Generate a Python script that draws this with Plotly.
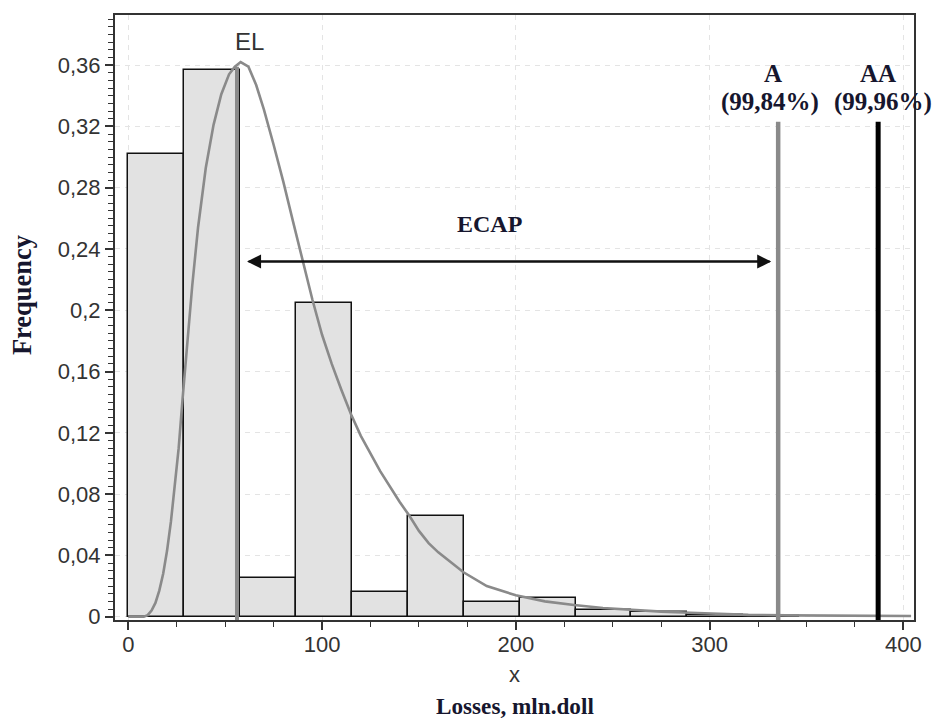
import plotly.graph_objects as go

# ---- data ----
bin_edges = [0, 28.85, 57.7, 86.55, 115.4, 144.25, 173.1, 201.95, 230.8, 259.65, 288.5, 317.35, 346.2]
bin_freq = [0.302, 0.357, 0.025, 0.205, 0.016, 0.066, 0.0093, 0.012, 0.0043, 0.0032, 0.0011, 0.0005]

curve_x = [0, 8, 10, 12, 14, 16, 18, 20, 22, 24, 26, 28, 30, 33, 36, 40, 44, 48, 52, 55, 58,
           62, 66, 70, 75, 80, 85, 90, 95, 100, 105, 110, 115, 120, 130, 140, 145, 150, 155,
           160, 173, 185, 200, 215, 230, 245, 260, 275, 290, 305, 320, 340, 360, 380, 404]
curve_y = [0, 0, 0.001, 0.004, 0.009, 0.017, 0.028, 0.043, 0.062, 0.085, 0.110, 0.142, 0.172,
           0.216, 0.254, 0.293, 0.321, 0.341, 0.354, 0.359, 0.362, 0.359, 0.347, 0.331, 0.308,
           0.284, 0.258, 0.232, 0.207, 0.184, 0.165, 0.148, 0.132, 0.118, 0.095, 0.075, 0.066,
           0.056, 0.048, 0.042, 0.029, 0.020, 0.014, 0.010, 0.0076, 0.0057, 0.0043, 0.0033,
           0.0026, 0.0018, 0.0012, 0.0009, 0.0007, 0.0006, 0.0005]

el_x = 56.1          # expected loss
el_top = 0.359
a_x = 335.4          # A (99,84%)
aa_x = 387.0         # AA (99,96%)
quantile_top = 0.323
ecap_y = 0.2318
ecap_left = 61.3
ecap_right = 331.8

y_tickvals = [0, 0.04, 0.08, 0.12, 0.16, 0.2, 0.24, 0.28, 0.32, 0.36]
y_ticktext = ["0", "0,04", "0,08", "0,12", "0,16", "0,2", "0,24", "0,28", "0,32", "0,36"]
x_tickvals = [0, 100, 200, 300, 400]
x_ticktext = ["0", "100", "200", "300", "400"]

SERIF = "Liberation Serif, Times New Roman, serif"
SANS = "Liberation Sans, Arial, sans-serif"
DARK = "#16162e"

bin_widths = [bin_edges[i + 1] - bin_edges[i] for i in range(len(bin_freq))]

fig = go.Figure()
fig.add_trace(go.Bar(
    x=bin_edges[:-1], y=bin_freq, width=bin_widths, offset=0,
    marker=dict(color="#e2e2e2", line=dict(color="#111111", width=1.5)),
    hoverinfo="skip", showlegend=False,
))
fig.add_trace(go.Scatter(
    x=curve_x, y=curve_y, mode="lines",
    line=dict(color="#8a8a8a", width=2.6),
    hoverinfo="skip", showlegend=False,
))

y_bottom = -0.00215
fig.add_shape(type="line", xref="x", yref="y", x0=el_x, x1=el_x, y0=y_bottom, y1=el_top,
              line=dict(color="#8a8a8a", width=4))
fig.add_shape(type="line", xref="x", yref="y", x0=a_x, x1=a_x, y0=y_bottom, y1=quantile_top,
              line=dict(color="#8a8a8a", width=4.5))
fig.add_shape(type="line", xref="x", yref="y", x0=aa_x, x1=aa_x, y0=y_bottom, y1=quantile_top,
              line=dict(color="#000000", width=5))

# double-headed ECAP arrow: two full-length arrows pointing opposite ways
for tip, tail in ((ecap_left, ecap_right), (ecap_right, ecap_left)):
    fig.add_annotation(x=tip, y=ecap_y, ax=tail, ay=ecap_y, xref="x", yref="y",
                       axref="x", ayref="y", text="", showarrow=True, arrowhead=2,
                       arrowsize=1.4, arrowwidth=2, arrowcolor="#111111", standoff=0)

fig.add_annotation(x=186.4, y=0.2565, xref="x", yref="y", text="<b>ECAP</b>", showarrow=False,
                   xanchor="center", yanchor="middle",
                   font=dict(family=SERIF, size=24, color=DARK))
fig.add_annotation(x=62.8, y=0.3755, xref="x", yref="y", text="EL", showarrow=False,
                   xanchor="center", yanchor="middle",
                   font=dict(family=SANS, size=24, color="#333333"))
fig.add_annotation(x=332.9, y=0.3545, xref="x", yref="y", text="<b>A</b>", showarrow=False,
                   xanchor="center", yanchor="middle",
                   font=dict(family=SERIF, size=25, color=DARK))
fig.add_annotation(x=331.2, y=0.3358, xref="x", yref="y", text="<b>(99,84%)</b>", showarrow=False,
                   xanchor="center", yanchor="middle",
                   font=dict(family=SERIF, size=25, color=DARK))
fig.add_annotation(x=387.0, y=0.3545, xref="x", yref="y", text="<b>AA</b>", showarrow=False,
                   xanchor="center", yanchor="middle",
                   font=dict(family=SERIF, size=25, color=DARK))
fig.add_annotation(x=389.6, y=0.3358, xref="x", yref="y", text="<b>(99,96%)</b>", showarrow=False,
                   xanchor="center", yanchor="middle",
                   font=dict(family=SERIF, size=25, color=DARK))

# axis titles
fig.add_annotation(x=-0.1164, y=0.537, xref="paper", yref="paper", text="<b>Frequency</b>",
                   textangle=-90, showarrow=False, xanchor="center", yanchor="middle",
                   font=dict(family=SERIF, size=26.5, color=DARK))
fig.add_annotation(x=0.5, y=-0.0905, xref="paper", yref="paper", text="x", showarrow=False,
                   xanchor="center", yanchor="middle",
                   font=dict(family=SANS, size=22, color="#333333"))
fig.add_annotation(x=0.5, y=-0.1425, xref="paper", yref="paper", text="<b>Losses, mln.doll</b>",
                   showarrow=False, xanchor="center", yanchor="middle",
                   font=dict(family=SERIF, size=23.2, color=DARK))

# the page body has an 8px margin, so the figure is offset by 8px
fig.update_layout(
    width=933, height=712,
    margin=dict(l=107, r=27, t=5, b=100),
    paper_bgcolor="white", plot_bgcolor="white",
    bargap=0, showlegend=False,
    font=dict(family=SANS, size=22, color="#333333"),
)
fig.update_xaxes(
    range=[-6.86, 405.5], tickmode="array", tickvals=x_tickvals, ticktext=x_ticktext,
    ticks="outside", ticklen=8, tickwidth=1.5, tickcolor="#333333",
    showline=True, linecolor="#333333", linewidth=2, mirror=True,
    showgrid=True, gridcolor="#e4e4e4", gridwidth=1, griddash="5px,5px",
    zeroline=False, tickfont=dict(family=SANS, size=22, color="#333333"),
    ticklabelstandoff=-4,
    minor=dict(tickmode="linear", tick0=0, dtick=25, ticks="outside", ticklen=5,
               tickcolor="#333333", tickwidth=1.2, showgrid=False),
)
fig.update_yaxes(
    range=[-0.00215, 0.3927], tickmode="array", tickvals=y_tickvals, ticktext=y_ticktext,
    ticks="outside", ticklen=8, tickwidth=1.5, tickcolor="#333333",
    showline=True, linecolor="#333333", linewidth=2, mirror=True,
    showgrid=True, gridcolor="#e4e4e4", gridwidth=1, griddash="5px,5px",
    zeroline=False, tickfont=dict(family=SANS, size=22, color="#333333"),
    minor=dict(tickmode="linear", tick0=0, dtick=0.005, ticks="outside", ticklen=5,
               tickcolor="#333333", tickwidth=1.2, showgrid=False),
)

fig.write_html("out.html")
